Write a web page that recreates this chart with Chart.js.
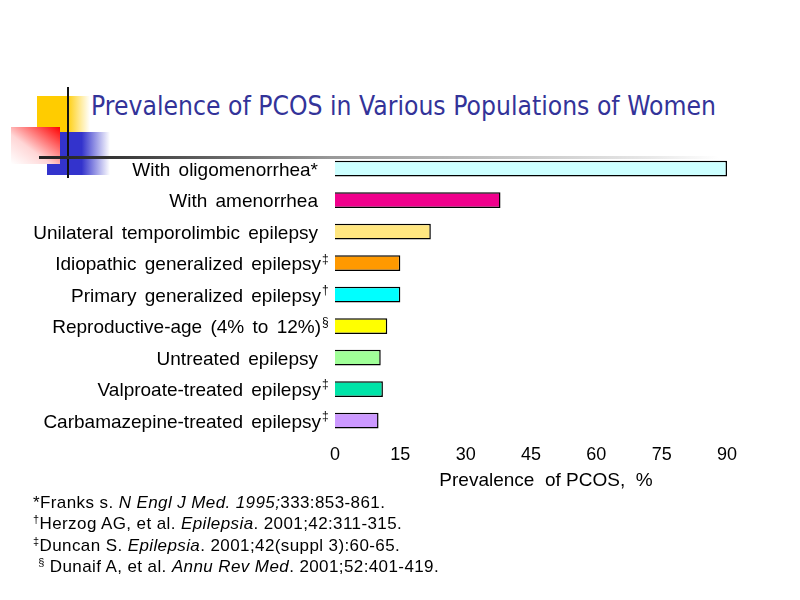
<!DOCTYPE html>
<html>
<head>
<meta charset="utf-8">
<script src="https://cdn.jsdelivr.net/npm/chart.js@4"></script>
<style>
    html, body { margin: 0; padding: 0; background: #fff; }
    #wrap { position: relative; width: 800px; height: 600px; overflow: hidden; }
    #chart { position: absolute; left: 0; top: 0; }
    .deco { position: absolute; }
    #title {
        position: absolute; left: 91px; top: 91px; white-space: nowrap;
        font-family: "DejaVu Sans", Verdana, sans-serif; font-size: 26px; line-height: 30px;
        color: #333399; transform-origin: left top;
    }
    #notes {
        position: absolute; left: 33px; top: 492px;
        font-family: "Liberation Sans", Arial, sans-serif; font-size: 17px; line-height: 21.4px;
        letter-spacing: 0.4px; color: #000;
    }
    #notes sup { font-size: 11px; line-height: 0; vertical-align: 6px; }
</style>
</head>
<body>
<div id="wrap">
    <!-- title decoration -->
    <div class="deco" style="left:37px;top:96px;width:53px;height:37px;background:linear-gradient(to right,#FFCC00 0%,#FFCC00 55%,#fff 100%);"></div>
    <div class="deco" style="left:47px;top:132px;width:63px;height:43px;background:linear-gradient(to right,#3333CC 0%,#3333CC 55%,#fff 100%);"></div>
    <div class="deco" style="left:11px;top:127px;width:49px;height:37px;background:linear-gradient(to top right,#fff 0%,#ffd6d6 40%,#ff0000 100%);"></div>
    <div class="deco" style="left:67px;top:87px;width:2px;height:91px;background:#111;"></div>
    <div class="deco" style="left:39px;top:156px;width:680px;height:3px;background:linear-gradient(to right,#222 0%,#333 10%,#999 43%,#e8e8e8 90%,#fff 100%);"></div>

    <div id="title">Prevalence of PCOS in Various Populations of Women</div>

    <canvas id="chart" width="800" height="600"></canvas>

    <div id="notes">
        <div>*Franks s. <i>N Engl J Med. 1995;</i>333:853-861.</div>
        <div><sup>†</sup>Herzog AG, et al. <i>Epilepsia</i>. 2001;42:311-315.</div>
        <div><sup>‡</sup>Duncan S. <i>Epilepsia</i>. 2001;42(suppl 3):60-65.</div>
        <div>&nbsp;<sup>§</sup> Dunaif A, et al. <i>Annu Rev Med</i>. 2001;52:401-419.</div>
    </div>
</div>

<script>
    // --- data ---
    const categories = [
        'With oligomenorrhea*',
        'With amenorrhea',
        'Unilateral temporolimbic epilepsy',
        'Idiopathic generalized epilepsy',
        'Primary generalized epilepsy',
        'Reproductive-age (4% to 12%)',
        'Untreated epilepsy',
        'Valproate-treated epilepsy',
        'Carbamazepine-treated epilepsy'
    ];
    const marks = ['', '', '', '‡', '†', '§', '', '‡', '‡'];
    const prevalence = [90, 38, 22, 15, 15, 12, 10.5, 11, 10];
    const xTicks = [0, 15, 30, 45, 60, 75, 90];
    const axisTitle = 'Prevalence  of PCOS,  %';

    const barColors = ['#CCFFFF', '#F0008C', '#FFE680', '#FF9900', '#00FFFF',
                       '#FFFF00', '#A0FF98', '#00E4A8', '#CC99FF'];

    const LABEL_RIGHT = 321;
    const LABEL_FONT = '19px "Liberation Sans", Arial, sans-serif';

    // squeeze the title to the width of the original (Tahoma is narrower than DejaVu)
    const title = document.getElementById('title');
    title.style.transform = 'scaleX(' + (625 / title.getBoundingClientRect().width) + ')';

    // category labels with superscript marks + axis title
    const sideLabels = {
        id: 'sideLabels',
        afterDraw(chart) {
            const ctx = chart.ctx;
            const ys = chart.scales.y, xs = chart.scales.x;
            ctx.save();
            ctx.fillStyle = '#000';
            ctx.textBaseline = 'middle';
            if ('wordSpacing' in ctx) ctx.wordSpacing = '3px';
            categories.forEach((name, i) => {
                const py = ys.getPixelForValue(i) + 2;
                ctx.font = LABEL_FONT;
                ctx.textAlign = 'right';
                ctx.fillText(name, marks[i] ? LABEL_RIGHT : LABEL_RIGHT - 3, py);
                if (marks[i]) {
                    ctx.font = '12px "Liberation Sans", Arial, sans-serif';
                    ctx.textAlign = 'left';
                    ctx.fillText(marks[i], LABEL_RIGHT + 1, py - 6);
                }
            });
            if ('wordSpacing' in ctx) ctx.wordSpacing = '0px';
            ctx.font = '19px "Liberation Sans", Arial, sans-serif';
            ctx.textAlign = 'center';
            ctx.fillText(axisTitle, (xs.left + xs.right) / 2 + 15, 481);
            ctx.restore();
        }
    };

    new Chart(document.getElementById('chart'), {
        type: 'bar',
        data: {
            labels: categories,
            datasets: [{
                data: prevalence,
                backgroundColor: barColors,
                borderColor: '#000',
                borderWidth: 1.5,
                barPercentage: 0.5,
                categoryPercentage: 1
            }]
        },
        options: {
            indexAxis: 'y',
            responsive: false,
            animation: false,
            layout: { padding: { left: 327, right: 73, top: 153, bottom: 134 } },
            plugins: { legend: { display: false }, tooltip: { enabled: false } },
            scales: {
                y: {
                    ticks: { display: false },
                    grid: { display: false },
                    border: { display: false }
                },
                x: {
                    min: 0,
                    max: 90,
                    afterBuildTicks: (s) => { s.ticks = xTicks.map(v => ({ value: v })); },
                    ticks: { color: '#000', padding: 0, font: { family: '"Liberation Sans", Arial, sans-serif', size: 18 } },
                    grid: { display: false },
                    border: { display: false }
                }
            }
        },
        plugins: [sideLabels]
    });
</script>
</body>
</html>
